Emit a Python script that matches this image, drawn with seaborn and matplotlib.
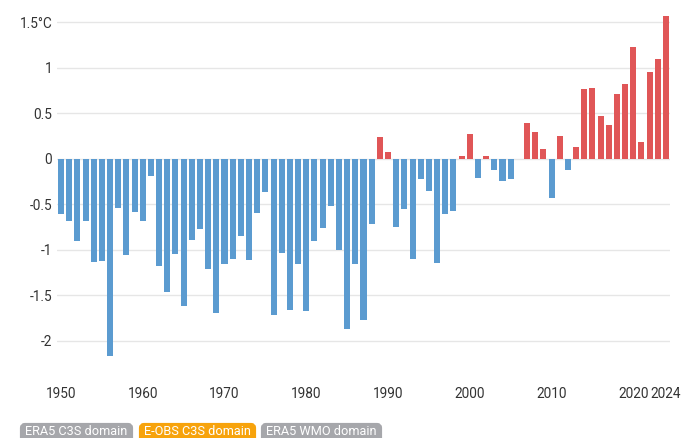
import matplotlib
matplotlib.use('Agg')
import matplotlib.pyplot as plt
from matplotlib.patches import FancyBboxPatch
from matplotlib.transforms import Affine2D
import numpy as np
import pandas as pd
import seaborn as sns

years = list(range(1950, 2025))
anomalies = [
    -0.61, -0.69, -0.91, -0.69, -1.14, -1.13, -2.17, -0.54, -1.06, -0.59,
    -0.69, -0.19, -1.18, -1.47, -1.05, -1.62, -0.90, -0.78, -1.21, -1.70,
    -1.16, -1.10, -0.85, -1.11, -0.60, -0.37, -1.72, -1.04, -1.66, -1.16,
    -1.68, -0.91, -0.76, -0.52, -1.00, -1.87, -1.16, -1.78, -0.72, 0.24,
    0.07, -0.75, -0.55, -1.10, -0.22, -0.36, -1.15, -0.61, -0.58, 0.03,
    0.27, -0.21, 0.03, -0.13, -0.25, -0.23, 0.00, 0.39, 0.29, 0.10,
    -0.43, 0.25, -0.13, 0.13, 0.76, 0.78, 0.47, 0.37, 0.71, 0.82,
    1.23, 0.18, 0.95, 1.09, 1.57,
]
y_ticks = [1.5, 1, 0.5, 0, -0.5, -1, -1.5, -2]
y_labels = ['1.5°C', '1', '0.5', '0', '-0.5', '-1', '-1.5', '-2']
x_ticks = [1950, 1960, 1970, 1980, 1990, 2000, 2010, 2020, 2024]
badge_labels = ['ERA5 C3S domain', 'E-OBS C3S domain', 'ERA5 WMO domain']

BLUE = '#5b9bd0'
RED = '#e05657'
W, H = 700, 438

sns.set_theme(style='white')
plt.rcParams['font.family'] = ['Roboto', 'DejaVu Sans']

df = pd.DataFrame({'year': years, 'anomaly': anomalies})
df['sign'] = np.where(df['anomaly'] >= 0, 'warm', 'cold')

fig = plt.figure(figsize=(7, 4.38), dpi=100)
# axes placed in pixels: gridlines run from x=57 to x=670
ax = fig.add_axes([57 / W, 1 - 370 / H, (670 - 57) / W, 360 / H])

sns.barplot(data=df, x='year', y='anomaly', hue='sign', native_scale=True,
            palette={'warm': RED, 'cold': BLUE}, dodge=False, width=0.74,
            saturation=1, linewidth=0, legend=False, ax=ax, zorder=3)

ax.set_xlim(1949.51, 2024.49)
ax.set_ylim(-2.324, 1.632)
ax.set_xlabel('')
ax.set_ylabel('')
ax.set_yticks(y_ticks)
ax.set_yticklabels(y_labels)
ax.set_xticks(x_ticks)
ax.set_xticklabels([str(x) for x in x_ticks])
ax.tick_params(axis='both', length=0, labelsize=9.8, labelcolor='#333333')
ax.tick_params(axis='y', pad=3.5)
ax.tick_params(axis='x', pad=12)
ax.grid(axis='y', color='#e6e6e6', linewidth=1)
ax.set_axisbelow(True)
sns.despine(ax=ax, left=True, bottom=True, top=True, right=True)

# badges under the chart, cut off by the bottom of the image
badges = [(20, 133, '#a6a7ab'), (139, 256, '#f7a30c'), (261, 382, '#a6a7ab')]
to_fig = Affine2D().scale(1 / W, -1 / H).translate(0, 1) + fig.transFigure
for (x0, x1, color), label in zip(badges, badge_labels):
    fig.add_artist(FancyBboxPatch((x0 + 2, 425), x1 - x0 - 4, 30,
                                  boxstyle='round,pad=0,rounding_size=3',
                                  mutation_aspect=1, linewidth=3, edgecolor=color,
                                  facecolor=color, transform=to_fig))
    fig.text((x0 + x1) / 2 / W, 1 - 431.5 / H, label, color='white', fontsize=9.2,
             ha='center', va='center')

fig.savefig('out.png', dpi=100)
